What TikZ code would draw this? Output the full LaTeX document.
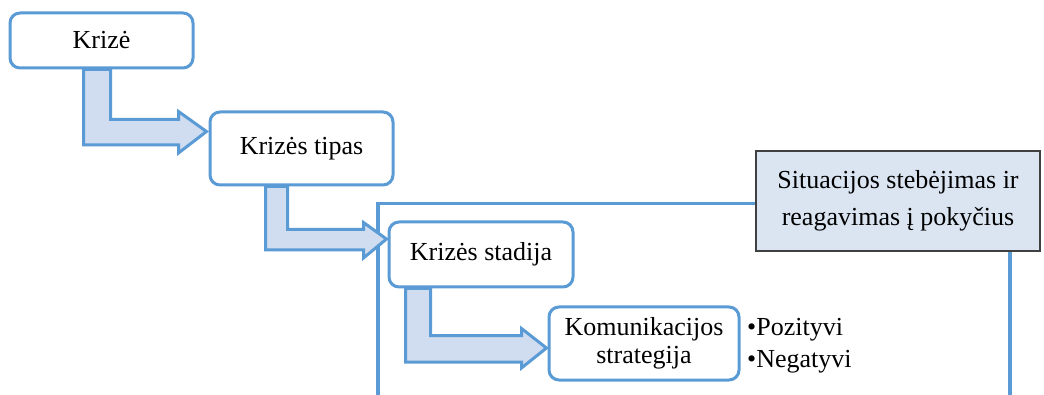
\documentclass[tikz,border=0pt]{standalone}
\usepackage{fontspec}
\setmainfont{Liberation Serif}
\usepackage{tikz}
\usetikzlibrary{calc}

\definecolor{boxblue}{RGB}{91,155,213}
\definecolor{arrowfill}{RGB}{208,220,239}
\definecolor{notefill}{RGB}{219,229,241}
\definecolor{notegray}{RGB}{64,64,64}

\begin{document}
\begin{tikzpicture}[x=1pt,y=-1pt]
		\useasboundingbox (0,0) rectangle (1044,395);
		\tikzstyle{stage}=[draw=boxblue,line width=3pt,rounded corners=10pt,fill=white,inner sep=0pt,font=\fontsize{26}{28}\selectfont,align=center]
		\tikzstyle{barrow}=[draw=boxblue,line width=3pt,fill=arrowfill,line join=miter]
		\tikzstyle{frame}=[draw=boxblue,line width=3.5pt]
		\tikzstyle{note}=[draw=notegray,line width=1.8pt,fill=notefill,inner sep=0pt,font=\fontsize{26}{37}\selectfont,align=center]
		\tikzstyle{item}=[anchor=west,inner sep=0pt,font=\fontsize{26}{30}\selectfont]
		% frame round the last steps
		\coordinate (f_1) at (378,420);
		\coordinate (f_2) at (378,203.5);
		\coordinate (f_3) at (1010,420);
		\node[note,minimum width=284pt,minimum height=100pt] (s) at (898,201) {Situacijos stebėjimas ir\\reagavimas į pokyčius};
		\draw[frame] (f_1) -- (f_2) -- (f_2 -| s.west);
		\draw[frame] (s.south -| f_3) -- (f_3);
		% steps
		\node[stage,minimum width=183pt,minimum height=55pt] (b_1) at (101.5,40.5) {Krizė};
		\node[stage,minimum width=183pt,minimum height=73pt] (b_2) at (301.5,148.5) {Krizės tipas};
		\node[stage,minimum width=184pt,minimum height=65pt] (b_3) at (481,254.5) {Krizės stadija};
		\node[stage,minimum width=190pt,minimum height=73pt] (b_4) at (644,343.5) {Komunikacijos\\strategija};
		\node[item] (p_1) at (747,330) {•Pozityvi};
		\node[item] (p_2) at (747,362) {•Negatyvi};
		% bent arrows
		\draw[barrow] ($(b_1.south west)+(75,0)$) -- ++(27,0) -- ++(0,50) -- ++(68,0) -- ++(0,-8) -- ($(b_2.west)+(-2,-17)$) -- ++(-28,21.5) -- ++(0,-8) -- ++(-95,0) -- cycle;
		\draw[barrow] ($(b_2.south west)+(57,0)$) -- ++(22,0) -- ++(0,43) -- ++(76,0) -- ++(0,-7) -- ($(b_3.west)+(-1,-15.5)$) -- ++(-23,19) -- ++(0,-8) -- ++(-98,0) -- cycle;
		\draw[barrow] ($(b_3.south west)+(18,0)$) -- ++(25,0) -- ++(0,47) -- ++(91,0) -- ++(0,-7) -- ($(b_4.west)+(-1,4.5)$) -- ++(-25,20) -- ++(0,-6) -- ++(-116,0) -- cycle;
	\end{tikzpicture}
\end{document}
